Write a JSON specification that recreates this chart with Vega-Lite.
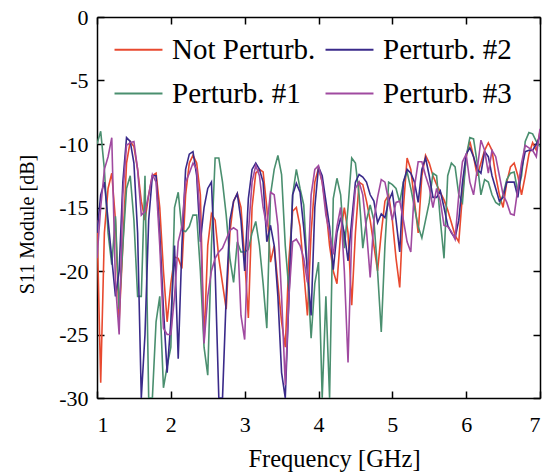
{
 "$schema": "https://vega.github.io/schema/vega-lite/v6.json",
 "width": 443, "height": 381,
 "autosize": {"type": "none"},
 "padding": {"left": 97, "top": 17, "right": 9, "bottom": 75},
 "background": "white",
 "config": {
  "view": {"stroke": null},
  "font": "Liberation Serif",
  "axis": {"domainColor": "black", "domainWidth": 1.5, "tickColor": "black", "tickWidth": 1.5, "tickSize": -7, "grid": false,
   "labelFont": "Liberation Serif", "labelFontSize": 22, "labelColor": "black",
   "titleFont": "Liberation Serif", "titleFontWeight": "normal", "titleColor": "black"},
  "legend": {"labelFont": "Liberation Serif"}
 },
 "data": {"values": [
{"f":1.00,"np":-16,"p1":-10,"p2":-17,"p3":-19},
{"f":1.05,"np":-28.8,"p1":-9,"p2":-14,"p3":-15},
{"f":1.10,"np":-17,"p1":-12,"p2":-13,"p3":-12},
{"f":1.15,"np":-13.5,"p1":-17,"p2":-16,"p3":-11},
{"f":1.20,"np":-12.3,"p1":-19.5,"p2":-19,"p3":-9.5},
{"f":1.25,"np":-16,"p1":-15.7,"p2":-22,"p3":-21},
{"f":1.30,"np":-24,"p1":-23,"p2":-20,"p3":-25},
{"f":1.35,"np":-18,"p1":-18,"p2":-13,"p3":-14},
{"f":1.40,"np":-11.5,"p1":-13.5,"p2":-9.5,"p3":-10.1},
{"f":1.45,"np":-9.8,"p1":-12.5,"p2":-9.8,"p3":-9.9},
{"f":1.50,"np":-10.2,"p1":-16,"p2":-11.5,"p3":-9.8},
{"f":1.55,"np":-12,"p1":-22,"p2":-17,"p3":-12},
{"f":1.60,"np":-14.5,"p1":-22,"p2":-30,"p3":-15.6},
{"f":1.65,"np":-16,"p1":-12.5,"p2":-25,"p3":-15.3},
{"f":1.70,"np":-14,"p1":-30,"p2":-16,"p3":-14},
{"f":1.75,"np":-12.5,"p1":-30,"p2":-12.5,"p3":-12.4},
{"f":1.80,"np":-12.3,"p1":-24,"p2":-12.5,"p3":-13},
{"f":1.85,"np":-15,"p1":-22,"p2":-17,"p3":-18},
{"f":1.90,"np":-20,"p1":-29.2,"p2":-23,"p3":-24.5},
{"f":1.95,"np":-24,"p1":-27.5,"p2":-28,"p3":-25},
{"f":2.00,"np":-21,"p1":-26,"p2":-24,"p3":-25},
{"f":2.05,"np":-18.9,"p1":-15,"p2":-18,"p3":-22},
{"f":2.10,"np":-19,"p1":-13.8,"p2":-26.9,"p3":-17.7},
{"f":2.15,"np":-19.8,"p1":-16.8,"p2":-18,"p3":-16.5},
{"f":2.20,"np":-14,"p1":-16.9,"p2":-12,"p3":-13},
{"f":2.25,"np":-11.5,"p1":-16.5,"p2":-10.8,"p3":-12.3},
{"f":2.30,"np":-10.9,"p1":-15.6,"p2":-10.6,"p3":-11.5},
{"f":2.35,"np":-11.5,"p1":-15.6,"p2":-12.5,"p3":-12},
{"f":2.40,"np":-14,"p1":-20,"p2":-17.7,"p3":-16},
{"f":2.45,"np":-25.6,"p1":-26,"p2":-15,"p3":-25.7},
{"f":2.50,"np":-18,"p1":-28.2,"p2":-13.5,"p3":-22},
{"f":2.55,"np":-15.5,"p1":-18,"p2":-13,"p3":-20},
{"f":2.60,"np":-16,"p1":-11.1,"p2":-20,"p3":-19},
{"f":2.65,"np":-19,"p1":-11.1,"p2":-30,"p3":-18.5},
{"f":2.70,"np":-21,"p1":-13,"p2":-30,"p3":-18.2},
{"f":2.75,"np":-23,"p1":-15.6,"p2":-22,"p3":-17.5},
{"f":2.80,"np":-17,"p1":-19,"p2":-16,"p3":-16.8},
{"f":2.85,"np":-14.5,"p1":-20.9,"p2":-14.5,"p3":-16.6},
{"f":2.90,"np":-13.9,"p1":-17.7,"p2":-13.9,"p3":-16.8},
{"f":2.95,"np":-15,"p1":-18.5,"p2":-16,"p3":-23.5},
{"f":3.00,"np":-19,"p1":-18.5,"p2":-20,"p3":-25.4},
{"f":3.05,"np":-23.7,"p1":-18.3,"p2":-14.3,"p3":-17},
{"f":3.10,"np":-15,"p1":-17,"p2":-12,"p3":-13},
{"f":3.15,"np":-12.3,"p1":-16.1,"p2":-11.5,"p3":-11.7},
{"f":3.20,"np":-12,"p1":-18,"p2":-12,"p3":-12.5},
{"f":3.25,"np":-12.2,"p1":-21,"p2":-13,"p3":-15},
{"f":3.30,"np":-15,"p1":-24.5,"p2":-17.7,"p3":-16.5},
{"f":3.35,"np":-19.3,"p1":-14,"p2":-16.4,"p3":-13.8},
{"f":3.40,"np":-18,"p1":-12,"p2":-18,"p3":-14},
{"f":3.45,"np":-21,"p1":-10.9,"p2":-22,"p3":-16.4},
{"f":3.50,"np":-24,"p1":-12.4,"p2":-28,"p3":-22},
{"f":3.55,"np":-26,"p1":-18,"p2":-30,"p3":-29},
{"f":3.60,"np":-19,"p1":-21.6,"p2":-22,"p3":-22},
{"f":3.65,"np":-15.3,"p1":-14,"p2":-14,"p3":-17.7},
{"f":3.70,"np":-15,"p1":-12,"p2":-13.1,"p3":-17.5},
{"f":3.75,"np":-16.5,"p1":-13.5,"p2":-13.8,"p3":-18},
{"f":3.80,"np":-20,"p1":-14.8,"p2":-16.6,"p3":-19},
{"f":3.85,"np":-23.5,"p1":-20,"p2":-20,"p3":-20.9},
{"f":3.90,"np":-17,"p1":-25.3,"p2":-23.5,"p3":-14},
{"f":3.95,"np":-13,"p1":-21,"p2":-15,"p3":-12},
{"f":4.00,"np":-11.9,"p1":-19.3,"p2":-11.8,"p3":-11.7},
{"f":4.05,"np":-13,"p1":-30,"p2":-12.5,"p3":-13},
{"f":4.10,"np":-15,"p1":-22,"p2":-14.5,"p3":-15.6},
{"f":4.15,"np":-18,"p1":-30,"p2":-16.5,"p3":-17},
{"f":4.20,"np":-20,"p1":-14.3,"p2":-19.9,"p3":-18.7},
{"f":4.25,"np":-21,"p1":-12.7,"p2":-17,"p3":-16.5},
{"f":4.30,"np":-17,"p1":-14,"p2":-15.8,"p3":-15},
{"f":4.35,"np":-15,"p1":-18.2,"p2":-17,"p3":-20},
{"f":4.40,"np":-17,"p1":-15,"p2":-19.2,"p3":-27.2},
{"f":4.45,"np":-22.7,"p1":-11.1,"p2":-16,"p3":-17},
{"f":4.50,"np":-17,"p1":-11.5,"p2":-13,"p3":-13.5},
{"f":4.55,"np":-13,"p1":-14,"p2":-12.4,"p3":-13},
{"f":4.60,"np":-13.2,"p1":-18.2,"p2":-12.6,"p3":-14},
{"f":4.65,"np":-14.5,"p1":-16,"p2":-13,"p3":-16.8},
{"f":4.70,"np":-16,"p1":-14.8,"p2":-14,"p3":-20.5},
{"f":4.75,"np":-18,"p1":-16,"p2":-14.5,"p3":-16},
{"f":4.80,"np":-20,"p1":-20,"p2":-16.2,"p3":-14.2},
{"f":4.85,"np":-17,"p1":-24.8,"p2":-15.5,"p3":-12.8},
{"f":4.90,"np":-14.5,"p1":-18,"p2":-15.8,"p3":-13},
{"f":4.95,"np":-14,"p1":-13,"p2":-14.5,"p3":-14.5},
{"f":5.00,"np":-16,"p1":-13.2,"p2":-13.8,"p3":-16},
{"f":5.05,"np":-19,"p1":-13.5,"p2":-16,"p3":-14.6},
{"f":5.10,"np":-21.3,"p1":-14.6,"p2":-18.5,"p3":-14.5},
{"f":5.15,"np":-15,"p1":-13,"p2":-13,"p3":-16},
{"f":5.20,"np":-11.1,"p1":-12.2,"p2":-12,"p3":-17.7},
{"f":5.25,"np":-12,"p1":-13.5,"p2":-12.3,"p3":-18.5},
{"f":5.30,"np":-14.5,"p1":-15,"p2":-13,"p3":-13.4},
{"f":5.35,"np":-17,"p1":-16.5,"p2":-14.6,"p3":-11.4},
{"f":5.40,"np":-12.5,"p1":-17.4,"p2":-12,"p3":-11.4},
{"f":5.45,"np":-10.9,"p1":-16,"p2":-11.1,"p3":-12.5},
{"f":5.50,"np":-11.5,"p1":-14.6,"p2":-12.5,"p3":-13.4},
{"f":5.55,"np":-12.5,"p1":-12.3,"p2":-14.2,"p3":-15},
{"f":5.60,"np":-13.2,"p1":-12.5,"p2":-14.2,"p3":-13.5},
{"f":5.65,"np":-13.8,"p1":-16,"p2":-13.7,"p3":-14.5},
{"f":5.70,"np":-14.4,"p1":-19,"p2":-15,"p3":-16.4},
{"f":5.75,"np":-15.2,"p1":-12.5,"p2":-16.4,"p3":-16.5},
{"f":5.80,"np":-16.2,"p1":-11.5,"p2":-17,"p3":-16.9},
{"f":5.85,"np":-17.2,"p1":-11.8,"p2":-17.4,"p3":-17.5},
{"f":5.90,"np":-17.7,"p1":-14,"p2":-16,"p3":-14},
{"f":5.95,"np":-14,"p1":-14.6,"p2":-13,"p3":-11.4},
{"f":6.00,"np":-11,"p1":-11,"p2":-10.8,"p3":-10.8},
{"f":6.05,"np":-9.8,"p1":-9.5,"p2":-10.3,"p3":-13},
{"f":6.10,"np":-11,"p1":-9.6,"p2":-11,"p3":-14},
{"f":6.15,"np":-12.5,"p1":-11.5,"p2":-12,"p3":-12},
{"f":6.20,"np":-11.5,"p1":-14,"p2":-12.3,"p3":-9.7},
{"f":6.25,"np":-10.5,"p1":-12.8,"p2":-10.6,"p3":-10.5},
{"f":6.30,"np":-9.9,"p1":-13,"p2":-11,"p3":-12.3},
{"f":6.35,"np":-10.5,"p1":-14,"p2":-12.5,"p3":-10.5},
{"f":6.40,"np":-12.5,"p1":-14.6,"p2":-13.5,"p3":-11},
{"f":6.45,"np":-14,"p1":-14.8,"p2":-14.5,"p3":-12.5},
{"f":6.50,"np":-15,"p1":-14,"p2":-14.2,"p3":-14},
{"f":6.55,"np":-13,"p1":-12.8,"p2":-13,"p3":-14.6},
{"f":6.60,"np":-11.8,"p1":-12.3,"p2":-13,"p3":-15.5},
{"f":6.65,"np":-11.5,"p1":-12.2,"p2":-13,"p3":-15.6},
{"f":6.70,"np":-12.5,"p1":-13.8,"p2":-14.2,"p3":-13.5},
{"f":6.75,"np":-14,"p1":-12.5,"p2":-12,"p3":-11.5},
{"f":6.80,"np":-12.5,"p1":-9.8,"p2":-10.6,"p3":-10.1},
{"f":6.85,"np":-10.8,"p1":-9.1,"p2":-10.5,"p3":-10.3},
{"f":6.90,"np":-9.9,"p1":-9.2,"p2":-10.5,"p3":-10.5},
{"f":6.95,"np":-10.5,"p1":-9.8,"p2":-10,"p3":-11},
{"f":7.00,"np":-9,"p1":-10.2,"p2":-9.4,"p3":-8.8}
 ]},
 "transform": [{"fold": ["np", "p1", "p2", "p3"], "as": ["s", "v"]}],
 "layer": [
  {
   "mark": {"type": "line", "strokeWidth": 1.6, "clip": true},
   "encoding": {
    "x": {"field": "f", "type": "quantitative", "scale": {"domain": [1, 7], "nice": false},
     "axis": {"orient": "bottom", "values": [1, 2, 3, 4, 5, 6, 7], "title": "Frequency [GHz]",
      "labelFont": "Liberation Serif", "titleFont": "Liberation Serif", "titleFontSize": 24.5, "labelPadding": 23,
      "labelExpr": "toString(datum.value)", "titleX": 237, "titleY": 49, "titleBaseline": "top"}},
    "y": {"field": "v", "type": "quantitative", "scale": {"domain": [-30, 0], "nice": false},
     "axis": {"orient": "left", "values": [-30, -25, -20, -15, -10, -5, 0], "title": "S11 Module [dB]",
      "labelFont": "Liberation Serif", "titleFont": "Liberation Serif", "titleFontSize": 20, "labelPadding": 16,
      "labelExpr": "toString(datum.value)", "titleX": -60, "titleY": 207, "titleAlign": "center", "titleAngle": 270}},
    "color": {"field": "s", "type": "nominal",
     "scale": {"domain": ["np", "p2", "p1", "p3"], "range": ["#e8492f", "#3a2a8a", "#4a8f6f", "#a04aa0"]},
     "legend": {"orient": "none", "legendX": 16, "legendY": 7, "columns": 2, "direction": "horizontal", "title": null,
      "symbolType": "stroke", "symbolSize": 2300, "symbolStrokeWidth": 2.2,
      "labelFont": "Liberation Serif", "labelFontSize": 29, "labelColor": "black", "labelOffset": 8, "columnPadding": 5, "rowPadding": 3,
      "labelExpr": "datum.label == 'np' ? 'Not Perturb.' : datum.label == 'p1' ? 'Perturb. #1' : datum.label == 'p2' ? 'Perturb. #2' : 'Perturb. #3'"}}
   }
  },
  {
   "mark": {"type": "line", "opacity": 0},
   "encoding": {
    "x": {"field": "f", "type": "quantitative", "scale": {"domain": [1, 7], "nice": false},
     "axis": {"orient": "top", "values": [1, 2, 3, 4, 5, 6, 7], "labels": false, "title": null}},
    "y": {"field": "v", "type": "quantitative", "scale": {"domain": [-30, 0], "nice": false},
     "axis": {"orient": "right", "values": [-30, -25, -20, -15, -10, -5, 0], "labels": false, "title": null}},
    "detail": {"field": "s", "type": "nominal"}
   }
  }
 ],
 "resolve": {"axis": {"x": "independent", "y": "independent"}}
}
